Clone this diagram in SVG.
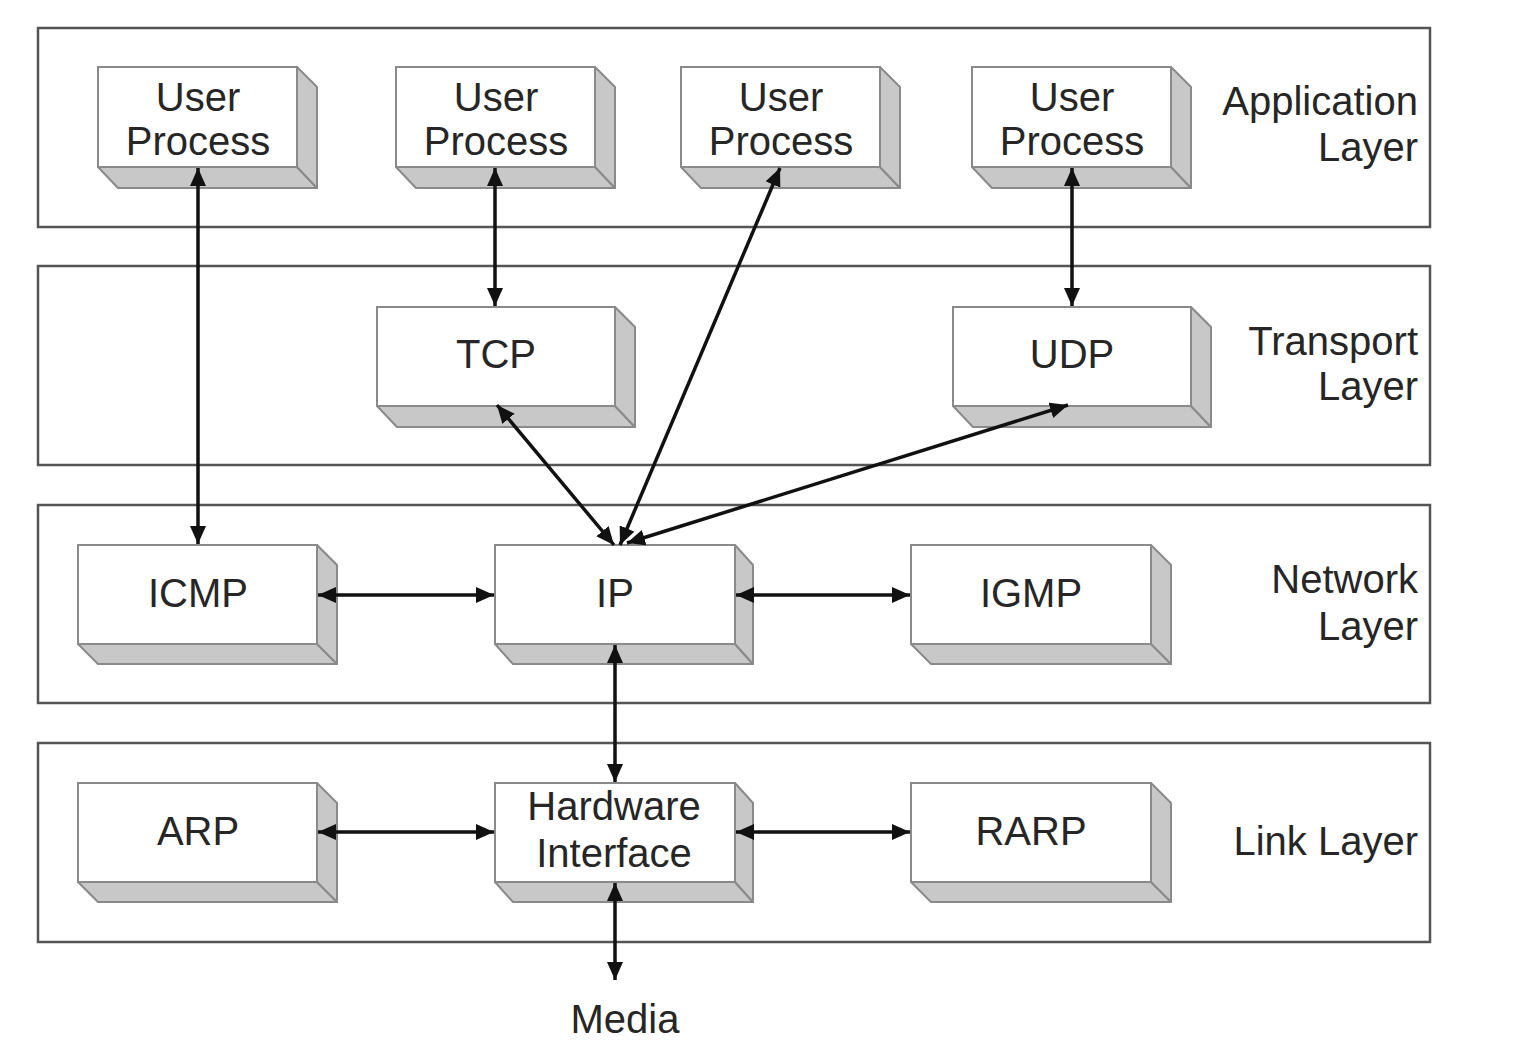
<svg xmlns="http://www.w3.org/2000/svg" width="1526" height="1060" viewBox="0 0 1526 1060">
<style>
.layer{fill:#fff;stroke:#555;stroke-width:2.5}
.face{fill:#fff;stroke:#8a8a8a;stroke-width:2}
.shade{fill:#c8c8c8;stroke:#8a8a8a;stroke-width:2;stroke-linejoin:round}
text{font-family:"Liberation Sans",Arial,sans-serif;font-size:40px;fill:#262626}
.c{text-anchor:middle}
.r{text-anchor:end}
.conn line{stroke:#111;stroke-width:3.5;marker-start:url(#ah);marker-end:url(#ah)}
</style>
<defs>
<marker id="ah" markerUnits="userSpaceOnUse" markerWidth="20" markerHeight="16" refX="18" refY="8" orient="auto-start-reverse">
<path d="M0,0 L18,8 L0,16 z" fill="#111"/>
</marker>
</defs>
<rect width="1526" height="1060" fill="#fff"/>
<g id="layers">
<rect class="layer" x="38" y="28" width="1392" height="199"/>
<rect class="layer" x="38" y="266" width="1392" height="199"/>
<rect class="layer" x="38" y="505" width="1392" height="198"/>
<rect class="layer" x="38" y="743" width="1392" height="199"/>
<text class="r" x="1418" y="115">Application</text>
<text class="r" x="1418" y="161">Layer</text>
<text class="r" x="1418" y="355">Transport</text>
<text class="r" x="1418" y="400">Layer</text>
<text class="r" x="1418" y="593">Network</text>
<text class="r" x="1418" y="640">Layer</text>
<text class="r" x="1418" y="855">Link Layer</text>
</g>
<g id="up1">
<polygon class="shade" points="98,167 297,167 317,188 118,188"/>
<polygon class="shade" points="297,67 317,87 317,188 297,167"/>
<rect class="face" x="98" y="67" width="199" height="100"/>
<text class="c" x="198" y="111">User</text><text class="c" x="198" y="155">Process</text>
</g>
<g id="up2">
<polygon class="shade" points="396,167 595,167 615,188 416,188"/>
<polygon class="shade" points="595,67 615,87 615,188 595,167"/>
<rect class="face" x="396" y="67" width="199" height="100"/>
<text class="c" x="496" y="111">User</text><text class="c" x="496" y="155">Process</text>
</g>
<g id="up3">
<polygon class="shade" points="681,167 880,167 900,188 701,188"/>
<polygon class="shade" points="880,67 900,87 900,188 880,167"/>
<rect class="face" x="681" y="67" width="199" height="100"/>
<text class="c" x="781" y="111">User</text><text class="c" x="781" y="155">Process</text>
</g>
<g id="up4">
<polygon class="shade" points="972,167 1171,167 1191,188 992,188"/>
<polygon class="shade" points="1171,67 1191,87 1191,188 1171,167"/>
<rect class="face" x="972" y="67" width="199" height="100"/>
<text class="c" x="1072" y="111">User</text><text class="c" x="1072" y="155">Process</text>
</g>
<g id="tcp">
<polygon class="shade" points="377,406 615,406 635,427 397,427"/>
<polygon class="shade" points="615,307 635,327 635,427 615,406"/>
<rect class="face" x="377" y="307" width="238" height="99"/>
<text class="c" x="496" y="368">TCP</text>
</g>
<g id="udp">
<polygon class="shade" points="953,406 1191,406 1211,427 973,427"/>
<polygon class="shade" points="1191,307 1211,327 1211,427 1191,406"/>
<rect class="face" x="953" y="307" width="238" height="99"/>
<text class="c" x="1072" y="368">UDP</text>
</g>
<g id="icmp">
<polygon class="shade" points="78,644 317,644 337,664 98,664"/>
<polygon class="shade" points="317,545 337,565 337,664 317,644"/>
<rect class="face" x="78" y="545" width="239" height="99"/>
<text class="c" x="198" y="607">ICMP</text>
</g>
<g id="ip">
<polygon class="shade" points="495,644 735,644 753,664 513,664"/>
<polygon class="shade" points="735,545 753,565 753,664 735,644"/>
<rect class="face" x="495" y="545" width="240" height="99"/>
<text class="c" x="615" y="607">IP</text>
</g>
<g id="igmp">
<polygon class="shade" points="911,644 1151,644 1171,664 931,664"/>
<polygon class="shade" points="1151,545 1171,565 1171,664 1151,644"/>
<rect class="face" x="911" y="545" width="240" height="99"/>
<text class="c" x="1031" y="607">IGMP</text>
</g>
<g id="arp">
<polygon class="shade" points="78,882 317,882 337,902 98,902"/>
<polygon class="shade" points="317,783 337,803 337,902 317,882"/>
<rect class="face" x="78" y="783" width="239" height="99"/>
<text class="c" x="198" y="845">ARP</text>
</g>
<g id="hw">
<polygon class="shade" points="495,882 735,882 753,902 513,902"/>
<polygon class="shade" points="735,783 753,803 753,902 735,882"/>
<rect class="face" x="495" y="783" width="240" height="99"/>
<text class="c" x="614" y="820">Hardware</text><text class="c" x="614" y="867">Interface</text>
</g>
<g id="rarp">
<polygon class="shade" points="911,882 1151,882 1171,902 931,902"/>
<polygon class="shade" points="1151,783 1171,803 1171,902 1151,882"/>
<rect class="face" x="911" y="783" width="240" height="99"/>
<text class="c" x="1031" y="845">RARP</text>
</g>
<g id="media">
<text class="c" x="625" y="1033">Media</text>
</g>
<g id="connectors" class="conn">
<line x1="198" y1="168" x2="198" y2="544"/>
<line x1="495" y1="168" x2="495" y2="306"/>
<line x1="1072" y1="168" x2="1072" y2="306"/>
<line x1="780" y1="168" x2="620" y2="545"/>
<line x1="497" y1="405" x2="614" y2="545"/>
<line x1="1068" y1="405" x2="627" y2="543"/>
<line x1="318" y1="595" x2="494" y2="595"/>
<line x1="736" y1="595" x2="910" y2="595"/>
<line x1="615" y1="645" x2="615" y2="782"/>
<line x1="318" y1="832" x2="494" y2="832"/>
<line x1="736" y1="832" x2="910" y2="832"/>
<line x1="615" y1="883" x2="615" y2="980"/>
</g>
</svg>
